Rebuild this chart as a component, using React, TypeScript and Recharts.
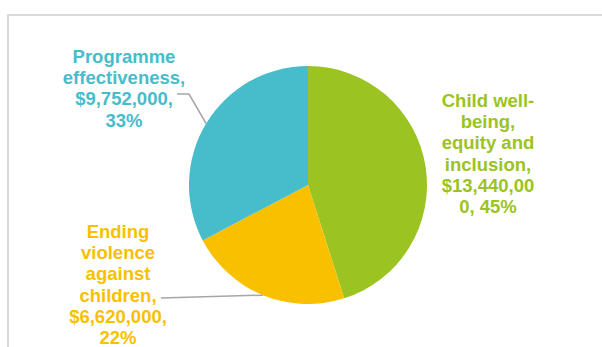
import React from "react";
import { PieChart, Pie, Cell } from "recharts";

const categories = [
  "Child well-being, equity and inclusion",
  "Ending violence against children",
  "Programme effectiveness",
];
const amounts = [13440000, 6620000, 9752000];
const percents = [45, 22, 33];
const labelLines = [
  ["Child well-", "being,", "equity and", "inclusion,", "$13,440,00", "0, 45%"],
  ["Ending", "violence", "against", "children,", "$6,620,000,", "22%"],
  ["Programme", "effectiveness,", "$9,752,000,", "33%"],
];

const colors = ["#9BC321", "#F9C000", "#47BCCA"];
// label block placement relative to pie centre: centre-x offset, first baseline offset
const labelPlacement = [
  { dx: 180, dy: -78 },
  { dx: -190, dy: 53 },
  { dx: -184, dy: -122 },
];
// leader line bend points relative to pie centre (after the point on the rim)
const leaderPoints: number[][][] = [
  [],
  [[-147, 113]],
  [[-119, -91], [-131, -91]],
];

const data = categories.map((name, i) => ({
  name,
  value: amounts[i],
  pct: percents[i],
  lines: labelLines[i],
}));

const RAD = Math.PI / 180;
const LINE_H = 21.2;

const renderLabel = (props: any) => {
  const { cx, cy, midAngle, outerRadius, index } = props;
  const place = labelPlacement[index];
  const lines: string[] = data[index].lines;
  const rimX = cx + outerRadius * Math.cos(-midAngle * RAD);
  const rimY = cy + outerRadius * Math.sin(-midAngle * RAD);
  const pts = leaderPoints[index];
  const tx = cx + place.dx;
  const ty = cy + place.dy;
  return (
    <g key={`lbl-${index}`}>
      {pts.length > 0 && (
        <polyline
          points={[[rimX, rimY], ...pts.map((p) => [cx + p[0], cy + p[1]])]
            .map((p) => p.join(","))
            .join(" ")}
          fill="none"
          stroke="#A6A6A6"
          strokeWidth={1.5}
        />
      )}
      <text
        x={tx}
        y={ty}
        textAnchor="middle"
        fill={colors[index]}
        fontFamily="'Liberation Sans', Arial, sans-serif"
        fontWeight="bold"
        fontSize={18.5}
      >
        {lines.map((l, i) => (
          <tspan key={i} x={tx} y={ty + i * LINE_H}>
            {l}
          </tspan>
        ))}
      </text>
    </g>
  );
};

export default function App() {
  return (
    <div
      style={{
        position: "fixed",
        left: 0,
        top: 0,
        width: 602,
        height: 347,
        overflow: "hidden",
        background: "#fff",
      }}
    >
      <style>{`.recharts-pie-sectors { filter: drop-shadow(0 0 3px rgba(0,0,0,0.3)); }`}</style>
      <div
        style={{
          position: "absolute",
          left: 7,
          top: 14,
          width: 700,
          height: 400,
          border: "2px solid #D9D9D9",
        }}
      />
      <div style={{ position: "absolute", left: 0, top: 0 }}>
        <PieChart
          width={602}
          height={347}
          margin={{ top: 0, right: 0, bottom: 0, left: 0 }}
        >
          <Pie
            data={data}
            dataKey="value"
            nameKey="name"
            cx={308}
            cy={185}
            outerRadius={119}
            startAngle={90}
            endAngle={-270}
            stroke="none"
            label={renderLabel}
            labelLine={false}
            isAnimationActive={false}
          >
            {data.map((d, i) => (
              <Cell key={d.name} fill={colors[i]} />
            ))}
          </Pie>
        </PieChart>
      </div>
    </div>
  );
}
